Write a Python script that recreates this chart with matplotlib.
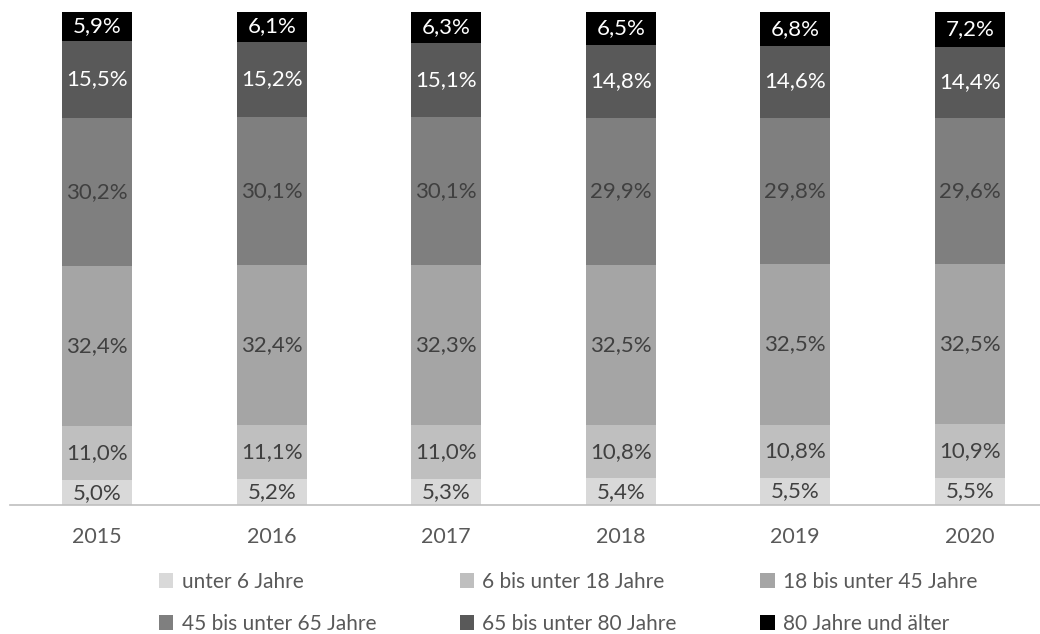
import matplotlib
matplotlib.use("Agg")
import matplotlib.pyplot as plt
import numpy as np

years = ["2015", "2016", "2017", "2018", "2019", "2020"]
series_names = ["unter 6 Jahre", "6 bis unter 18 Jahre", "18 bis unter 45 Jahre",
                "45 bis unter 65 Jahre", "65 bis unter 80 Jahre", "80 Jahre und älter"]
unter6 = [5.0, 5.2, 5.3, 5.4, 5.5, 5.5]
b6_18 = [11.0, 11.1, 11.0, 10.8, 10.8, 10.9]
b18_45 = [32.4, 32.4, 32.3, 32.5, 32.5, 32.5]
b45_65 = [30.2, 30.1, 30.1, 29.9, 29.8, 29.6]
b65_80 = [15.5, 15.2, 15.1, 14.8, 14.6, 14.4]
ab80 = [5.9, 6.1, 6.3, 6.5, 6.8, 7.2]
series = [unter6, b6_18, b18_45, b45_65, b65_80, ab80]
colors = ["#d9d9d9", "#bfbfbf", "#a5a5a5", "#7f7f7f", "#595959", "#000000"]
text_colors = ["#404040", "#404040", "#404040", "#404040", "#ffffff", "#ffffff"]

plt.rcParams['font.family'] = ['Lato', 'DejaVu Sans']

fig = plt.figure(figsize=(10.4, 6.34), dpi=100)
ax = fig.add_axes([10/1040, 1 - 505/634, 1047/1040, (505 - 12)/634])

x = np.arange(len(years))
bottom = np.zeros(len(years))
handles = []
for vals, c, tc, name in zip(series, colors, text_colors, series_names):
    v = np.array(vals)
    bars = ax.bar(x, v, width=0.4, bottom=bottom, color=c, label=name)
    handles.append(bars)
    for xi, vi, bi in zip(x, v, bottom):
        ax.text(xi, bi + vi / 2, f"{vi:.1f}%".replace(".", ","), ha="center", va="center",
                color=tc, fontsize=16)
    bottom += v

ax.set_xlim(-0.5, len(years) - 0.5)
ax.set_ylim(0, 100)
ax.set_xticks(x)
ax.set_xticklabels(years, fontsize=15.5, color="#595959")
ax.tick_params(axis="x", length=0, pad=16)
ax.set_yticks([])
for s in ["top", "right", "left"]:
    ax.spines[s].set_visible(False)
ax.spines["bottom"].set_color("#bfbfbf")
ax.spines["bottom"].set_linewidth(1.2)

order = [0, 3, 1, 4, 2, 5]
leg = fig.legend(handles=[handles[i] for i in order], labels=[series_names[i] for i in order],
                 loc="upper left", bbox_to_anchor=(140/1040, 1 - 553/634), ncol=3, frameon=False,
                 fontsize=15, handlelength=0.7, handleheight=0.7, handletextpad=0.4,
                 columnspacing=4.0, labelspacing=1.05)
for t in leg.get_texts():
    t.set_color("#595959")

fig.savefig("out.png", dpi=100)
